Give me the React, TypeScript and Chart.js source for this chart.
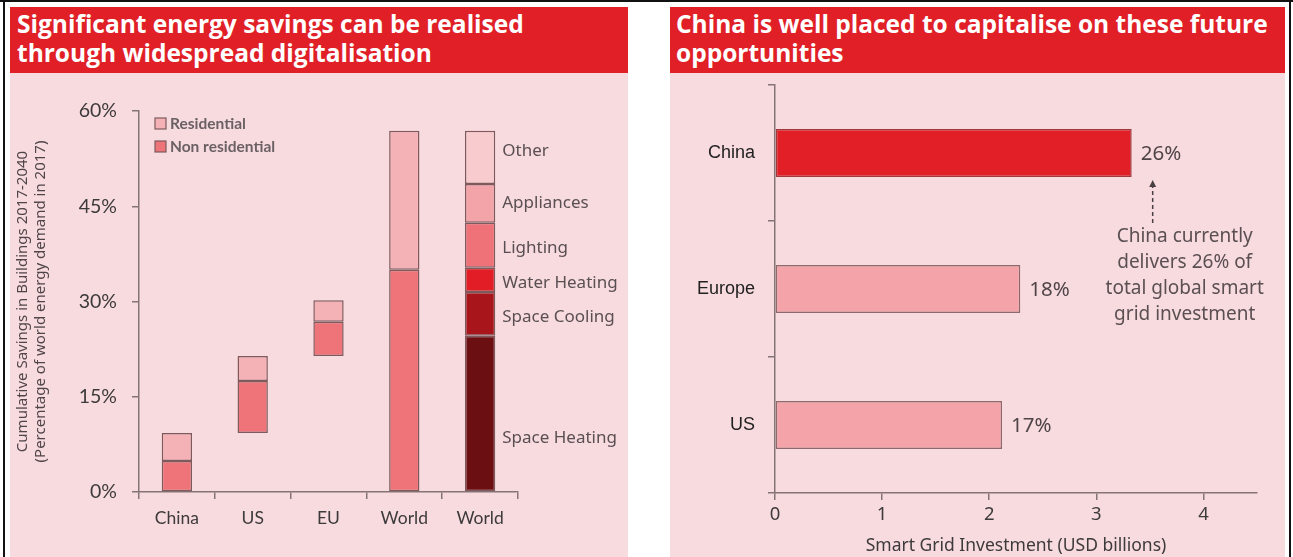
import React, { useEffect, useRef } from 'react';
import { Chart, registerables } from 'chart.js';

Chart.register(...registerables);

// ---------- Left chart data ----------
const savingsCategories = ['China', 'US', 'EU', 'World', 'World'];
const nonResidentialStart = [0, 9.3, 21.4, 0, null];
const nonResidentialEnd = [4.9, 17.5, 26.8, 35.0, null];
const residentialEnd = [9.3, 21.4, 30.2, 56.9, null];
const endUseNames = ['Space Heating', 'Space Cooling', 'Water Heating', 'Lighting', 'Appliances', 'Other'];
const endUseCumulative = [24.6, 31.5, 35.3, 42.4, 48.5, 56.9];
const endUseColors = ['#6B0F12', '#A8151B', '#E21D25', '#EE7278', '#F3A4A9', '#F8CBCE'];
const savingsTickValues = [0, 15, 30, 45, 60];

// ---------- Right chart data ----------
const gridRegions = ['China', 'Europe', 'US'];
const gridInvestment = [3.33, 2.29, 2.12];
const gridShareLabels = ['26%', '18%', '17%'];
const investmentTickValues = [0, 1, 2, 3, 4];
const annotationLines = ['China currently', 'delivers 26% of', 'total global smart', 'grid investment'];

const PINK = '#F8DBDF';
const RED = '#E01F27';
const AXIS = '#857477';
const BAR_BORDER = '#7E5A5D';
const FUTURA = '"Noto Sans", "DejaVu Sans", sans-serif';
const CALIBRI = 'Lato, "Noto Sans", sans-serif';

const savingsOverlay = {
  id: 'savingsOverlay',
  afterDatasetsDraw(chart: any) {
    const { ctx, chartArea } = chart;
    ctx.save();
    // legend
    const legendItems = [
      { text: 'Residential', color: '#F4B2B6' },
      { text: 'Non residential', color: '#EE7479' },
    ];
    ctx.font = 'bold 15.5px ' + CALIBRI;
    ctx.textBaseline = 'middle';
    legendItems.forEach((it, i) => {
      const lx = chartArea.left + 16;
      const ly = chartArea.top + 7 + i * 23;
      ctx.fillStyle = it.color;
      ctx.fillRect(lx, ly, 11, 11);
      ctx.strokeStyle = BAR_BORDER;
      ctx.lineWidth = 1.2;
      ctx.strokeRect(lx, ly, 11, 11);
      ctx.fillStyle = '#6B6165';
      ctx.fillText(it.text, lx + 15, ly + 5.5);
    });
    // end-use labels
    const meta = chart.getDatasetMeta(2);
    const bar: any = meta.data[4];
    const yScale = chart.scales.y;
    const labelX = bar.x + bar.width / 2 + 7;
    const nudge = [24, 3, 3, 3, 0, -6];
    ctx.font = '17px ' + FUTURA;
    ctx.fillStyle = '#5A4F52';
    ctx.textAlign = 'left';
    endUseNames.forEach((name, k) => {
      const lo = k === 0 ? 0 : endUseCumulative[k - 1];
      const hi = endUseCumulative[k];
      const py = yScale.getPixelForValue((lo + hi) / 2) + nudge[k];
      ctx.fillText(name, labelX, py);
    });
    ctx.restore();
  },
};

const gridOverlay = {
  id: 'gridOverlay',
  afterDatasetsDraw(chart: any) {
    const { ctx } = chart;
    const meta = chart.getDatasetMeta(0);
    ctx.save();
    ctx.font = '20.5px ' + FUTURA;
    ctx.fillStyle = '#4F4548';
    ctx.textBaseline = 'middle';
    ctx.textAlign = 'left';
    meta.data.forEach((bar: any, i: number) => {
      ctx.fillText(gridShareLabels[i], bar.x + 9, bar.y + 1);
    });
    // annotation arrow below China bar
    const china: any = meta.data[0];
    const barBottom = china.y + china.height / 2;
    const ax = china.x + 21;
    ctx.strokeStyle = '#4A4044';
    ctx.lineWidth = 1.5;
    ctx.setLineDash([4, 3]);
    ctx.beginPath();
    ctx.moveTo(ax, barBottom + 46);
    ctx.lineTo(ax, barBottom + 9);
    ctx.stroke();
    ctx.setLineDash([]);
    ctx.fillStyle = '#4A4044';
    ctx.beginPath();
    ctx.moveTo(ax, barBottom + 3);
    ctx.lineTo(ax - 3.5, barBottom + 10);
    ctx.lineTo(ax + 3.5, barBottom + 10);
    ctx.closePath();
    ctx.fill();
    ctx.font = '19px ' + FUTURA;
    ctx.fillStyle = '#5A4F52';
    ctx.textAlign = 'center';
    annotationLines.forEach((line, i) => {
      ctx.fillText(line, ax + 32, barBottom + 60 + i * 26);
    });
    ctx.restore();
  },
};

function SavingsChart() {
  const ref = useRef<HTMLCanvasElement | null>(null);
  useEffect(() => {
    if (!ref.current) return;
    const floating = (lo: any[], hi: any[]) =>
      savingsCategories.map((_, i) => (hi[i] == null ? null : [lo[i], hi[i]]));
    const datasets: any[] = [
      {
        label: 'Non residential',
        data: floating(nonResidentialStart, nonResidentialEnd),
        backgroundColor: '#EE7479',
      },
      {
        label: 'Residential',
        data: floating(nonResidentialEnd, residentialEnd),
        backgroundColor: '#F4B2B6',
      },
    ];
    endUseNames.forEach((name, k) => {
      const lo = k === 0 ? 0 : endUseCumulative[k - 1];
      datasets.push({
        label: name,
        data: savingsCategories.map((_, i) => (i === 4 ? [lo, endUseCumulative[k]] : null)),
        backgroundColor: endUseColors[k],
      });
    });
    datasets.forEach((d) => {
      d.borderColor = BAR_BORDER;
      d.borderWidth = 1.5;
      d.borderSkipped = false;
      d.grouped = false;
      d.barPercentage = 0.4;
      d.categoryPercentage = 1;
    });
    const chart = new Chart(ref.current, {
      type: 'bar',
      data: { labels: savingsCategories, datasets },
      options: {
        responsive: false,
        animation: false,
        layout: { padding: { top: 38, right: 110, left: 0, bottom: 0 } },
        plugins: { legend: { display: false }, tooltip: { enabled: false } },
        scales: {
          x: {
            grid: { drawOnChartArea: false, tickLength: 7, color: AXIS, lineWidth: 1.5, offset: true },
            border: { color: AXIS, width: 1.5 },
            ticks: { font: { family: CALIBRI, size: 17.5 }, color: '#3D3A3B', padding: 9 },
            afterFit(s: any) {
              s.height = 65;
            },
          },
          y: {
            min: 0,
            max: 60,
            afterBuildTicks(s: any) {
              s.ticks = savingsTickValues.map((v) => ({ value: v }));
            },
            grid: { drawOnChartArea: false, tickLength: 7, color: AXIS, lineWidth: 1.5 },
            border: { color: AXIS, width: 1.5 },
            ticks: {
              font: { family: CALIBRI, size: 19.5 },
              color: '#3D3A3B',
              padding: 15,
              callback: (v: any) => v + '%',
            },
            title: {
              display: true,
              text: ['Cumulative Savings in Buildings 2017-2040', '(Percentage of world energy demand in 2017)'],
              font: { family: FUTURA, size: 15, lineHeight: 1.2 },
              color: '#4F4548',
              padding: { top: 4, bottom: 0 },
            },
            afterFit(s: any) {
              s.width = 129;
            },
          },
        },
      } as any,
      plugins: [savingsOverlay],
    });
    return () => chart.destroy();
  }, []);
  return <canvas ref={ref} width={618} height={484} style={{ display: 'block' }} />;
}

function GridChart() {
  const ref = useRef<HTMLCanvasElement | null>(null);
  useEffect(() => {
    if (!ref.current) return;
    const chart = new Chart(ref.current, {
      type: 'bar',
      data: {
        labels: gridRegions,
        datasets: [
          {
            label: 'Smart Grid Investment',
            data: gridInvestment,
            backgroundColor: ['#E21F26', '#F4A3A8', '#F4A3A8'],
            borderColor: ['#A2383C', '#8E6A6D', '#8E6A6D'],
            borderWidth: 1.5,
            borderSkipped: false,
            barPercentage: 0.353,
            categoryPercentage: 1,
          },
        ],
      },
      options: {
        indexAxis: 'y',
        responsive: false,
        animation: false,
        layout: { padding: { top: 12, right: 28, left: 0, bottom: 0 } },
        plugins: { legend: { display: false }, tooltip: { enabled: false } },
        scales: {
          x: {
            min: 0,
            max: 4.5,
            afterBuildTicks(s: any) {
              s.ticks = investmentTickValues.map((v) => ({ value: v }));
            },
            grid: { drawOnChartArea: false, tickLength: 7, color: AXIS, lineWidth: 1.5 },
            border: { color: AXIS, width: 1.5 },
            ticks: { font: { family: FUTURA, size: 18.5 }, color: '#3D3A3B', padding: 4 },
            title: {
              display: true,
              text: 'Smart Grid Investment (USD billions)',
              font: { family: FUTURA, size: 17.5 },
              color: '#3D3A3B',
              padding: { top: 0, bottom: 0 },
            },
            afterFit(s: any) {
              s.height = 64;
              s.paddingLeft = 0;
              s.paddingRight = 0;
            },
          },
          y: {
            grid: { drawOnChartArea: false, tickLength: 7, color: AXIS, lineWidth: 1.5, offset: true },
            border: { color: AXIS, width: 1.5 },
            ticks: { font: { family: '"Liberation Sans", Arial, sans-serif', size: 18 }, color: '#222', padding: 13 },
            afterFit(s: any) {
              s.width = 105;
              s.paddingTop = 0;
              s.paddingBottom = 0;
            },
          },
        },
      } as any,
      plugins: [gridOverlay],
    });
    return () => chart.destroy();
  }, []);
  return <canvas ref={ref} width={615} height={484} style={{ display: 'block' }} />;
}

const titleStyle: React.CSSProperties = {
  position: 'absolute',
  background: RED,
  color: '#fff',
  fontFamily: '"Open Sans", Lato, sans-serif',
  fontWeight: 700,
  fontSize: 24.5,
  lineHeight: '29px',
  boxSizing: 'border-box',
  paddingTop: 2,
  whiteSpace: 'nowrap',
  overflow: 'hidden',
};

export default function App() {
  return (
    <div
      style={{
        position: 'absolute',
        left: 0,
        top: 0,
        width: 1293,
        height: 557,
        background: '#fff',
        overflow: 'hidden',
      }}
    >
      {/* frame */}
      <div style={{ position: 'absolute', left: 0, top: 0, width: 1293, height: 2, background: '#111' }} />
      <div style={{ position: 'absolute', left: 3, top: 0, width: 2, height: 557, background: '#111' }} />
      <div style={{ position: 'absolute', left: 1289, top: 0, width: 2, height: 557, background: '#111' }} />

      {/* left panel */}
      <div style={{ ...titleStyle, left: 10, top: 7, width: 618, height: 66, paddingLeft: 7 }}>
        Significant energy savings can be realised
        <br />
        through widespread digitalisation
      </div>
      <div style={{ position: 'absolute', left: 10, top: 73, width: 618, height: 484, background: PINK }}>
        <SavingsChart />
      </div>

      {/* right panel */}
      <div style={{ ...titleStyle, left: 670, top: 7, width: 615, height: 66, paddingLeft: 6 }}>
        China is well placed to capitalise on these future
        <br />
        opportunities
      </div>
      <div style={{ position: 'absolute', left: 670, top: 73, width: 615, height: 484, background: PINK }}>
        <GridChart />
      </div>
    </div>
  );
}
